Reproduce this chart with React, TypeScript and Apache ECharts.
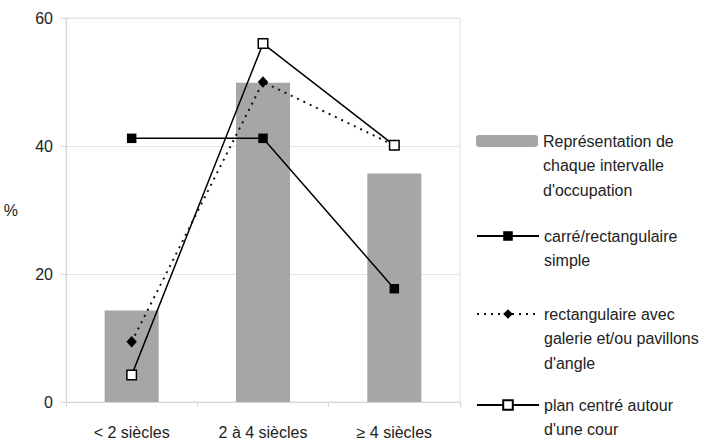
import React, { useEffect, useRef } from "react";
import * as echarts from "echarts";

const categories = ["< 2 siècles", "2 à 4 siècles", "≥ 4 siècles"];
const yTicks = [0, 20, 40, 60];
const barName = "Représentation de chaque intervalle d'occupation";
const barValues = [14.3, 49.9, 35.7];
const carreName = "carré/rectangulaire simple";
const carreValues = [41.2, 41.2, 17.7];
const galerieName = "rectangulaire avec galerie et/ou pavillons d'angle";
const galerieValues = [9.4, 50.0, 40.1];
const planName = "plan centré autour d'une cour";
const planValues = [4.2, 56.0, 40.1];

const legendLines: Record<string, string[]> = {
  [barName]: ["Représentation de", "chaque intervalle", "d'occupation"],
  [carreName]: ["carré/rectangulaire", "simple"],
  [galerieName]: ["rectangulaire avec", "galerie et/ou pavillons", "d'angle"],
  [planName]: ["plan centré autour", "d'une cour"],
};

const FONT = "'Liberation Sans', Arial, sans-serif";
const LH = 24.5;

function legendFor(name: string, iconTop: number) {
  const n = legendLines[name].length;
  const m = 2 * n - 1;
  const textTop = 6 - (m * LH) / 2;
  return {
    data: [name],
    orient: "vertical",
    left: 476,
    top: iconTop + textTop,
    padding: 0,
    itemWidth: 62,
    itemHeight: 12,
    formatter: (nm: string) => {
      const lines = legendLines[nm];
      return new Array(lines.length - 1).fill(" ").concat(lines).join("\n");
    },
    textStyle: {
      fontFamily: FONT,
      fontSize: 16,
      color: "#222",
      lineHeight: LH,
    },
  };
}

export default function App() {
  const ref = useRef<HTMLDivElement>(null);
  useEffect(() => {
    if (!ref.current) return;
    const chart = echarts.init(ref.current, undefined, { renderer: "svg" });
    chart.setOption({
      animation: false,
      backgroundColor: "#fff",
      textStyle: { fontFamily: FONT },
      grid: {
        left: 66,
        right: 248,
        top: 18,
        bottom: 39,
        show: true,
        borderColor: "#e0e0e0",
        borderWidth: 1,
      },
      legend: [
        legendFor(barName, 135),
        legendFor(carreName, 230),
        legendFor(galerieName, 308),
        legendFor(planName, 399),
      ],
      xAxis: {
        type: "category",
        data: categories,
        boundaryGap: true,
        axisLine: { show: true, lineStyle: { color: "#d6d6d6" } },
        axisTick: { show: true, length: 5, lineStyle: { color: "#d6d6d6" } },
        axisLabel: { fontSize: 16, color: "#222", margin: 22, fontFamily: FONT },
      },
      yAxis: {
        type: "value",
        min: yTicks[0],
        max: yTicks[yTicks.length - 1],
        interval: 20,
        name: "%",
        nameLocation: "middle",
        nameRotate: 0,
        nameGap: 48,
        nameTextStyle: { fontSize: 16, color: "#222", fontFamily: FONT },
        axisLine: { show: true, lineStyle: { color: "#d6d6d6" } },
        axisTick: { show: true, length: 5, lineStyle: { color: "#d6d6d6" } },
        axisLabel: { fontSize: 16, color: "#222", margin: 13, fontFamily: FONT },
        splitLine: { show: true, lineStyle: { color: "#e6e6e6" } },
      },
      series: [
        {
          name: barName,
          type: "bar",
          data: barValues,
          barWidth: 54,
          itemStyle: { color: "#a6a6a6" },
          z: 1,
        },
        {
          name: carreName,
          type: "line",
          data: carreValues,
          symbol: "rect",
          symbolSize: 9.5,
          itemStyle: { color: "#000" },
          lineStyle: { color: "#000", width: 1.5 },
          z: 3,
        },
        {
          name: galerieName,
          type: "line",
          data: galerieValues,
          symbol: "diamond",
          symbolSize: [10.5, 11.5],
          itemStyle: { color: "#000" },
          lineStyle: { color: "#111", width: 2, type: [2, 5] },
          z: 3,
        },
        {
          name: planName,
          type: "line",
          data: planValues,
          symbol: "rect",
          symbolSize: 9.5,
          itemStyle: { color: "#fff", borderColor: "#000", borderWidth: 1.5 },
          lineStyle: { color: "#000", width: 1.5 },
          z: 4,
        },
      ],
    });
    return () => chart.dispose();
  }, []);
  return <div ref={ref} style={{ width: 708, height: 441, position: "absolute", left: 0, top: 0 }} />;
}
